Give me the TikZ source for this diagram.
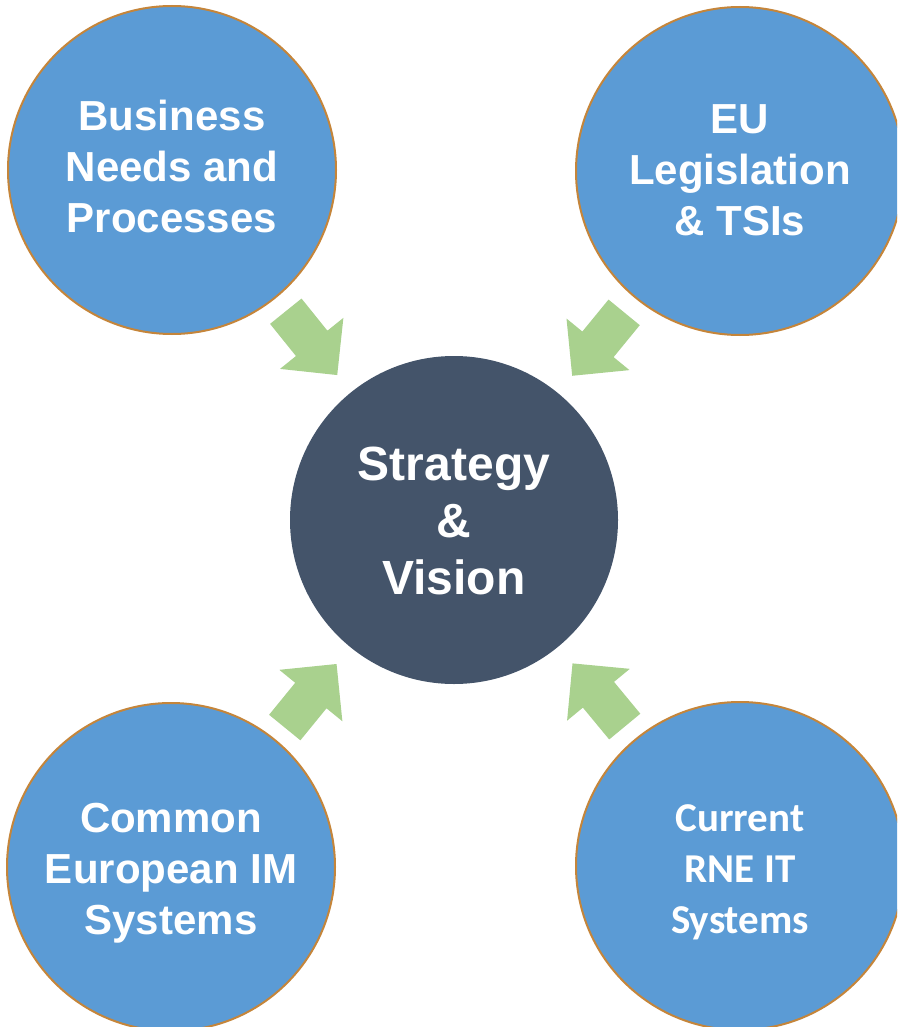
\documentclass[tikz,border=0pt]{standalone}
\usepackage{fontspec}
\setmainfont{Liberation Sans}
\newfontfamily\calibrifont{Carlito}
\usetikzlibrary{shapes.arrows}

\definecolor{circleblue}{HTML}{5B9BD5}
\definecolor{circlerim}{HTML}{C5853A}
\definecolor{visionslate}{HTML}{44546A}
\definecolor{arrowgreen}{HTML}{A9D18E}

\tikzset{
	source/.style={circle, minimum size=328pt, inner sep=0pt, fill=circleblue,
		draw=circlerim, line width=2pt},
	goal/.style={circle, minimum size=328pt, inner sep=0pt, fill=visionslate},
	caption/.style={text=white, align=center, inner sep=0pt,
		font=\bfseries\fontsize{42}{51}\selectfont},
	feed/.style={single arrow, fill=arrowgreen, draw=none, minimum height=82pt,
		minimum width=0pt, inner xsep=0pt, inner ysep=20pt,
		single arrow head extend=20.5pt, single arrow tip angle=90,
		sloped, allow upside down, anchor=tip}
}

\begin{document}
\begin{tikzpicture}[x=1pt,y=-1pt]
				% Frame
				\useasboundingbox (0,0) rectangle (897,1027);
				\clip (0,0) rectangle (897,1027);
				
				% Circles
				\node[goal] (vision) at (454,520) {};
				\node[source] (business) at (172,170) {};
				\node[source] (legislation) at (740,171) {};
				\node[source] (common) at (171,867) {};
				\node[source] (current) at (740,866) {};
				
				% Texts
				\node[caption, font=\bfseries\fontsize{48}{57}\selectfont]
					(vision text) at ([yshift=-1pt]vision) {Strategy\\\&\\Vision};
				\node[caption] (business text) at ([yshift=4pt]business) {Business\\Needs and\\Processes};
				\node[caption] (legislation text) at ([yshift=1pt]legislation) {EU\\Legislation\\\& TSIs};
				\node[caption] (common text) at ([yshift=-6pt]common) {Common\\European IM\\Systems};
				\node[caption, font=\calibrifont\bfseries\fontsize{41}{51}\selectfont]
					(current text) at ([yshift=-6pt]current) {Current\\RNE IT\\Systems};
				
				% Arrows
				\foreach \src in {business,legislation,common,current}
				\path (\src) -- node[feed, pos=0.82] {} (vision);
\end{tikzpicture}
\end{document}
